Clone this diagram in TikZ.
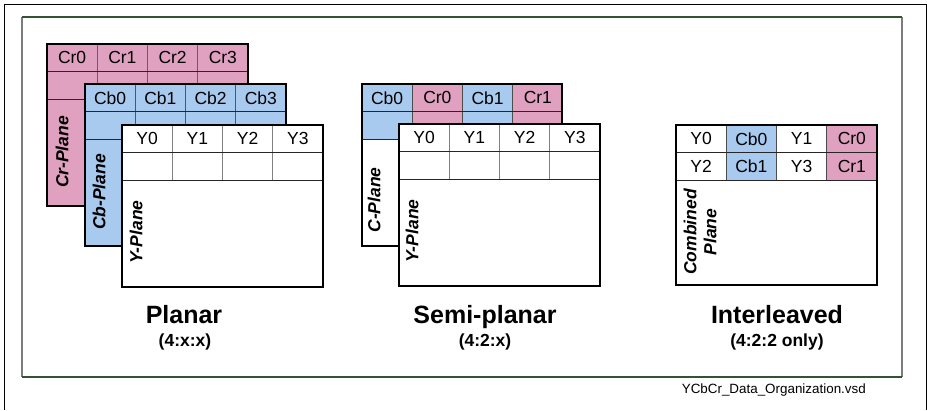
\documentclass[tikz,border=0pt]{standalone}
\usepackage{fontspec}
\setmainfont{Liberation Sans}
\usetikzlibrary{positioning,calc}
\definecolor{crpink}{RGB}{224,160,192}
\definecolor{cbblue}{RGB}{168,202,238}
\definecolor{crline}{RGB}{135,85,60}
\definecolor{cbline}{RGB}{70,85,125}
\definecolor{frgreen}{RGB}{52,82,52}
\definecolor{frgray}{RGB}{125,125,125}
\tikzset{
  plane/.style={draw=black, line width=1.6pt, outer sep=0pt, inner sep=0pt,
                minimum width=201pt, minimum height=162pt, anchor=north west},
  grid/.style={line width=0.9pt},
  cell/.style={font=\fontsize{17.5}{20}\selectfont, inner sep=0pt},
  planelbl/.style={font=\fontsize{17.5}{20}\selectfont\bfseries\itshape,
                   rotate=90, inner sep=0pt, align=center},
  capt/.style={font=\fontsize{25}{28}\selectfont\bfseries, inner sep=0pt, anchor=base},
  subcapt/.style={font=\fontsize{17.5}{20}\selectfont\bfseries, inner sep=0pt, anchor=base},
}
% grid of a plane: column lines, two row lines, border on top
\newcommand{\planegrid}[2]{%
  \foreach \i in {1,2,3}
    \draw[grid, #2] ($(#1.north west)+(50.25*\i,0)$) -- ++(0,55);
  \draw[grid, black!85] ($(#1.north west)+(0,27.5)$) -- ++(201,0)
                        ($(#1.north west)+(0,55)$) -- ++(201,0);
  \draw[plane] (#1.north west) rectangle (#1.south east);
}
% header labels of a plane, row 0 or 1
\newcommand{\planecells}[4]{%
  \foreach \t [count=\i from 0] in {#4}
    \node[cell] (#2\i) at ($(#1.north west)+(25.125+50.25*\i,13.75+27.5*#3)$) {\t};
}

\begin{document}
\begin{tikzpicture}[x=1pt,y=-1pt]
  \useasboundingbox (0,0) rectangle (927,410);
  % frames
  \draw[black, line width=0.8pt] (4,410) -- (4,4) -- (926,4) -- (926,410);
  \draw[frgray, line width=1.6pt] (22,17) -- (22,377) (902,17) -- (902,377);
  \draw[frgreen, line width=1.6pt] (22,17) -- (902,17) (22,377) -- (902,377);

  % planar
  \node[plane, fill=crpink] (crplane) at (47,44) {};
  \planegrid{crplane}{crline}
  \planecells{crplane}{cr}{0}{Cr0,Cr1,Cr2,Cr3}
  \node[planelbl] (crlbl) at (62,152) {Cr-Plane};

  \node[plane, fill=cbblue] (cbplane) at (85,84) {};
  \planegrid{cbplane}{cbline}
  \planecells{cbplane}{cb}{0}{Cb0,Cb1,Cb2,Cb3}
  \node[planelbl] (cblbl) at (99,192) {Cb-Plane};

  \node[plane, fill=white] (yplane) at (122,125) {};
  \planegrid{yplane}{gray}
  \planecells{yplane}{y}{0}{Y0,Y1,Y2,Y3}
  \node[planelbl] (ylbl) at (136,232) {Y-Plane};

  \node[capt] (planar) at (184,323) {Planar};
  \node[subcapt] (planarsub) at (185,346) {(4:x:x)};

  % semi-planar
  \node[plane, fill=white, minimum width=200pt] (cplane) at (362,84) {};
  \foreach \i/\c in {0/cbblue,1/crpink,2/cbblue,3/crpink}
    \fill[\c] ($(cplane.north west)+(50.25*\i,0)$) rectangle ++(50.25,55);
  \planegrid{cplane}{gray!60!black}
  \planecells{cplane}{c}{0}{Cb0,Cr0,Cb1,Cr1}
  \node[planelbl] (clbl) at (374,200) {C-Plane};

  \node[plane, fill=white] (ysplane) at (399,124) {};
  \planegrid{ysplane}{gray}
  \planecells{ysplane}{ys}{0}{Y0,Y1,Y2,Y3}
  \node[planelbl] (yslbl) at (412,231) {Y-Plane};

  \node[capt] (semi) at (485,323) {Semi-planar};
  \node[subcapt] (semisub) at (485,346) {(4:2:x)};

  % interleaved
  \node[plane, fill=white, minimum height=160pt] (mixplane) at (676,125) {};
  \fill[cbblue] ($(mixplane.north west)+(50.25,0)$) rectangle ++(50.25,55);
  \fill[crpink] ($(mixplane.north west)+(150.75,0)$) rectangle ++(50.25,55);
  \planegrid{mixplane}{gray!60!black}
  \planecells{mixplane}{ma}{0}{Y0,Cb0,Y1,Cr0}
  \planecells{mixplane}{mb}{1}{Y2,Cb1,Y3,Cr1}
  \node[planelbl] (mixlbl) at (700,232) {Combined\\Plane};

  \node[capt] (inter) at (777,323) {Interleaved};
  \node[subcapt] (intersub) at (777,346) {(4:2:2 only)};

  \node[font=\fontsize{13.4}{16}\selectfont, inner sep=0pt, anchor=base east]
    (fname) at (866,393) {YCbCr\_Data\_Organization.vsd};
\end{tikzpicture}
\end{document}
